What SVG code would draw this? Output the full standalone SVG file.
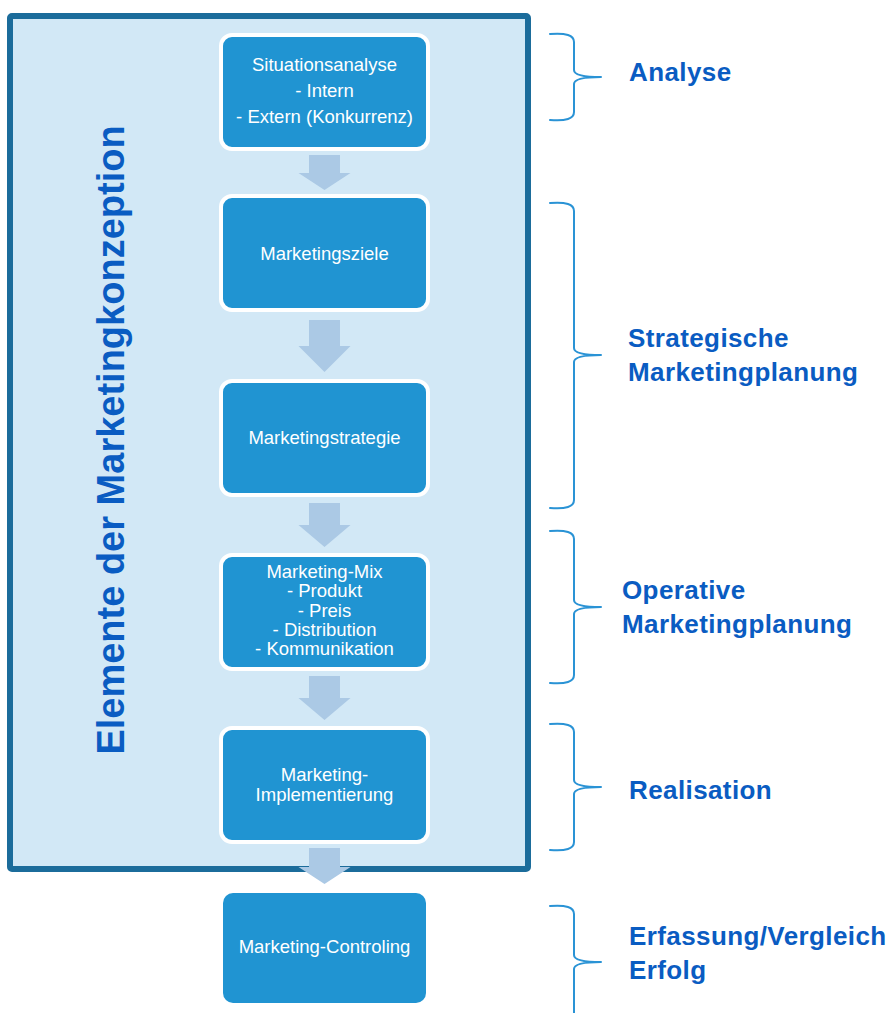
<svg xmlns="http://www.w3.org/2000/svg" width="888" height="1013" viewBox="0 0 888 1013">
  <style>
    .frame { fill: #d2e8f6; stroke: #1b6c9b; stroke-width: 6; }
    .node { fill: #2094d2; stroke: #ffffff; stroke-width: 4; }
    .node-plain { fill: #2094d2; }
    .ntext { font-family: "Liberation Sans", Arial, sans-serif; font-size: 18.5px; fill: #ffffff; text-anchor: middle; }
    .arrow { fill: #abc9e5; }
    .brace { fill: none; stroke: #2a93d5; stroke-width: 2; stroke-linecap: round; stroke-linejoin: round; }
    .label { font-family: "Liberation Sans", Arial, sans-serif; font-size: 26px; letter-spacing: 0.4px; font-weight: bold; fill: #0a5cc2; }
    .title { font-family: "Liberation Sans", Arial, sans-serif; font-size: 38px; font-weight: bold; fill: #0a5cc2; text-anchor: middle; }
  </style>

  <rect width="888" height="1013" fill="#ffffff"/>

  <!-- outer frame with vertical title -->
  <g id="frame">
    <rect class="frame" x="10" y="16" width="518" height="853" rx="2"/>
    <text class="title" x="124" y="440" transform="rotate(-90 124 440)">Elemente der Marketingkonzeption</text>
  </g>

  <!-- process steps -->
  <g id="situationsanalyse">
    <rect class="node" x="221" y="35" width="207" height="114" rx="11"/>
    <text class="ntext" x="324.5" y="71">Situationsanalyse</text>
    <text class="ntext" x="324.5" y="97">- Intern</text>
    <text class="ntext" x="324.5" y="123">- Extern (Konkurrenz)</text>
  </g>
  <g id="marketingsziele">
    <rect class="node" x="221" y="196" width="207" height="114" rx="11"/>
    <text class="ntext" x="324.5" y="260">Marketingsziele</text>
  </g>
  <g id="marketingstrategie">
    <rect class="node" x="221" y="381" width="207" height="114" rx="11"/>
    <text class="ntext" x="324.5" y="444">Marketingstrategie</text>
  </g>
  <g id="marketing-mix">
    <rect class="node" x="221" y="555" width="207" height="114" rx="11"/>
    <text class="ntext" x="324.5" y="578">Marketing-Mix</text>
    <text class="ntext" x="324.5" y="597">- Produkt</text>
    <text class="ntext" x="324.5" y="617">- Preis</text>
    <text class="ntext" x="324.5" y="636">- Distribution</text>
    <text class="ntext" x="324.5" y="655">- Kommunikation</text>
  </g>
  <g id="implementierung">
    <rect class="node" x="221" y="728" width="207" height="114" rx="11"/>
    <text class="ntext" x="324.5" y="781">Marketing-</text>
    <text class="ntext" x="324.5" y="801">Implementierung</text>
  </g>
  <g id="controling">
    <rect class="node-plain" x="223" y="893" width="203" height="110" rx="10"/>
    <text class="ntext" x="324.5" y="953">Marketing-Controling</text>
  </g>

  <!-- block arrows between steps -->
  <g id="connectors">
    <path class="arrow" d="M309,155 H340 V173 H350.5 L324.5,190 L298.5,173 H309 Z"/>
    <path class="arrow" d="M309,320 H340 V346 H350.5 L324.5,372 L298.5,346 H309 Z"/>
    <path class="arrow" d="M309,503 H340 V525 H350.5 L324.5,547 L298.5,525 H309 Z"/>
    <path class="arrow" d="M309,676 H340 V698 H350.5 L324.5,720 L298.5,698 H309 Z"/>
    <path class="arrow" d="M309,848 H340 V867 H350.5 L324.5,884 L298.5,867 H309 Z"/>
  </g>

  <!-- phase braces and labels -->
  <g id="phase-analyse">
    <path class="brace" d="M550,34 Q574,32 574,42 V70 Q574,77 601,77 Q574,77 574,84 V112 Q574,122 550,120"/>
    <text class="label" x="629" y="81">Analyse</text>
  </g>
  <g id="phase-strategisch">
    <path class="brace" d="M550,203 Q574,201 574,211 V348 Q574,355 601,355 Q574,355 574,362 V500 Q574,510 550,508"/>
    <text class="label" x="628" y="347">Strategische</text>
    <text class="label" x="628" y="381">Marketingplanung</text>
  </g>
  <g id="phase-operativ">
    <path class="brace" d="M550,531 Q574,529 574,539 V600 Q574,607 601,607 Q574,607 574,614 V675 Q574,685 550,683"/>
    <text class="label" x="622" y="599">Operative</text>
    <text class="label" x="622" y="633">Marketingplanung</text>
  </g>
  <g id="phase-realisation">
    <path class="brace" d="M550,724 Q574,722 574,732 V780 Q574,787 601,787 Q574,787 574,794 V842 Q574,852 550,850"/>
    <text class="label" x="629" y="799">Realisation</text>
  </g>
  <g id="phase-erfolg">
    <path class="brace" d="M550,906 Q574,904 574,914 V955 Q574,962 601,962 Q574,962 574,969 V1020"/>
    <text class="label" x="629" y="945">Erfassung/Vergleich</text>
    <text class="label" x="629" y="979">Erfolg</text>
  </g>
</svg>
